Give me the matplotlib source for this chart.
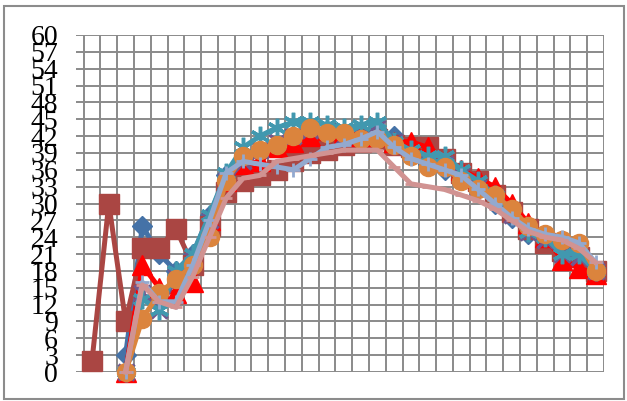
import matplotlib
matplotlib.use("Agg")
import matplotlib.pyplot as plt
from matplotlib.patches import Rectangle
import numpy as np

# Category index 0..30; first two categories only carry the second series
categories = list(range(31))
y_ticks = list(range(0, 61, 3))

series_1 = [None, None, 3, 26, 21, 18, 21, 28, 35, 38, 39, 40.5, 42, 43, 43, 42.5,
            42, 43, 42, 39, 37, 36, 35, 33, 30, 27.5, 24.5, 23, 20.5, 21, 18]
series_2 = [2, 30, 9, 22, 22, 25.5, 19, 26, 32, 34, 35, 36, 37.5, 39, 39.5, 40.5,
            41, 41.5, 40.5, 40, 40, 38, 35.5, 34, 31.5, 28.5, 25.5, 23, 21.5, 20.5, 18]
series_3 = [None, None, 0, 19, 15, 14, 16, 27, 34, 37, 37.5, 40, 41, 42, 43, 42.5,
            42, 42, 41, 41, 40, 38, 36, 34.5, 33, 30, 26.5, 24, 20, 18.5, 17.5]
series_4 = [None, None, 0, 14, 11, 17, 20, 27, 34, 37.5, 39.5, 41, 42, 43, 43, 42,
            42, 43.5, 41, 39, 37.5, 37, 35, 33, 31, 28, 25, 23.5, 21, 20.5, 18]
series_5 = [None, None, 0, 13, 11, 18, 21, 28, 35.5, 40, 42, 43.5, 44.5, 44.5, 44, 43.5,
            44, 44.5, 41, 39.5, 38.5, 38.5, 36, 34, 31.5, 28.5, 25, 24, 21, 21, 18]
series_6 = [None, None, 0, 9.5, 14, 16.5, 19, 24, 34, 38.5, 39.5, 40.5, 42, 43.5, 42.5, 42.5,
            41.5, 41.5, 40.5, 38.5, 36.5, 36.5, 34, 32.5, 31.5, 29, 26, 24.5, 23.5, 23, 18]
series_7 = [None, None, 0, 16, 12.5, 12.5, 19, 27, 35.5, 37.5, 37, 36.5, 36, 38, 40, 40.5,
            41.5, 42.8, 40, 38, 37, 36, 35, 32.5, 30, 27.5, 25.5, 24.5, 24, 23, 19.5]
series_8 = [None, None, 0, 15.5, 12.5, 11.5, 17, 24, 31, 34.5, 35, 37.5, 38, 38.5, 39, 39.5,
            39.5, 39.5, 36.5, 33.5, 33, 32.5, 31.5, 30.5, 29, 27, 25, 24, 23.5, 22, 19.5]

styles = [
    (series_1, "#4572A7", "D", 10, 1.0),
    (series_2, "#AA4643", "s", 14, 1.0),
    (series_3, "#FF0000", "^", 14, 1.0),
    (series_4, "#71588F", "x", 12, 2.5),
    (series_5, "#4198AF", (6, 2, 0), 14, 2.5),
    (series_6, "#DB843D", "o", 13, 1.0),
    (series_7, "#93A9CF", "+", 10, 2.0),
    (series_8, "#D19392", "_", 8, 2.0),
]

fig = plt.figure(figsize=(6.27, 4.01), dpi=100)
ax = fig.add_axes([76 / 627, 1 - 372 / 401, (604 - 76) / 627, (372 - 35) / 401])

x = np.array(categories, dtype=float)
for vals, color, marker, ms, mew in styles:
    y = np.array([np.nan if v is None else v for v in vals], dtype=float)
    ax.plot(x, y, color=color, lw=3.6, marker=marker, markersize=ms,
            markeredgewidth=mew, markeredgecolor=color, markerfacecolor=color,
            solid_joinstyle="round", clip_on=False, zorder=3)

ax.set_xlim(-0.954, 30.5)
ax.set_ylim(0, 60)

# grid: horizontal at every 3, vertical between categories
for v in y_ticks:
    ax.axhline(v, color="#8a8a8a", lw=1.4, zorder=1)
for k in range(32):
    ax.axvline(k - 0.5, color="#8a8a8a", lw=1.4, zorder=1)

ax.set_yticks(y_ticks)
ax.set_yticklabels([str(v) for v in y_ticks], family="Liberation Serif", fontsize=20)
ax.tick_params(axis="y", length=0, pad=13)
ax.set_xticks([])
for sp in ax.spines.values():
    sp.set_visible(False)

# outer chart frame
fig.patches.append(Rectangle((4 / 627, 1 - 399 / 401), 620 / 627, 393 / 401,
                             transform=fig.transFigure, fill=False,
                             edgecolor="#8c8c8c", lw=1.5))

fig.savefig("out.png", dpi=100)
